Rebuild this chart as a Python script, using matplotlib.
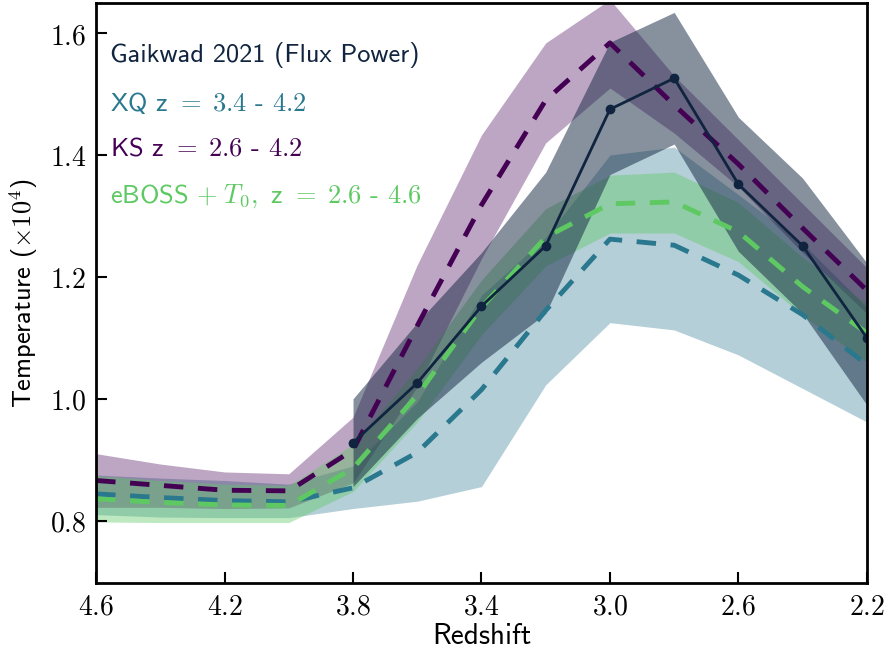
import numpy as np
import matplotlib
matplotlib.use("Agg")
import matplotlib.pyplot as plt

plt.rcParams["mathtext.fontset"] = "cm"
plt.rcParams["axes.formatter.use_mathtext"] = True

# redshift grid shared by the thermal histories
z = [4.6, 4.4, 4.2, 4.0, 3.8, 3.6, 3.4, 3.2, 3.0, 2.8, 2.6, 2.4, 2.2]

# XQ z = 3.4 - 4.2
xq_mean = [0.844, 0.838, 0.833, 0.831, 0.854, 0.912, 1.015, 1.145, 1.262, 1.252, 1.203, 1.138, 1.056]
xq_hi = [0.875, 0.870, 0.866, 0.860, 0.890, 0.995, 1.170, 1.265, 1.400, 1.413, 1.335, 1.255, 1.150]
xq_lo = [0.810, 0.806, 0.805, 0.805, 0.820, 0.832, 0.856, 1.023, 1.125, 1.113, 1.072, 1.017, 0.962]

# KS z = 2.6 - 4.2
ks_mean = [0.866, 0.858, 0.850, 0.849, 0.916, 1.120, 1.318, 1.490, 1.584, 1.482, 1.385, 1.280, 1.178]
ks_hi = [0.910, 0.893, 0.880, 0.877, 0.970, 1.220, 1.433, 1.584, 1.655, 1.530, 1.425, 1.320, 1.215]
ks_lo = [0.822, 0.822, 0.820, 0.821, 0.862, 1.020, 1.230, 1.420, 1.510, 1.436, 1.348, 1.240, 1.140]

# eBOSS + T0, z = 2.6 - 4.6
eb_mean = [0.836, 0.830, 0.826, 0.825, 0.886, 1.006, 1.150, 1.265, 1.320, 1.323, 1.274, 1.184, 1.108]
eb_hi = [0.874, 0.866, 0.860, 0.858, 0.925, 1.050, 1.195, 1.312, 1.367, 1.372, 1.322, 1.232, 1.156]
eb_lo = [0.798, 0.797, 0.797, 0.797, 0.848, 0.962, 1.105, 1.218, 1.272, 1.272, 1.225, 1.137, 1.060]

# Gaikwad 2021 flux power measurements
g_z = [3.8, 3.6, 3.4, 3.2, 3.0, 2.8, 2.6, 2.4, 2.2]
g_mean = [0.928, 1.026, 1.152, 1.251, 1.475, 1.526, 1.352, 1.251, 1.100]
g_hi = [1.000, 1.125, 1.240, 1.372, 1.585, 1.634, 1.462, 1.362, 1.223]
g_lo = [0.856, 0.968, 1.060, 1.140, 1.368, 1.418, 1.242, 1.140, 0.990]

c_xq = "#2a788e"
c_ks = "#440154"
c_eb = "#5ec962"
c_g = "#10243f"

fig, ax = plt.subplots(figsize=(8.9, 6.52), dpi=100)
fig.subplots_adjust(left=0.108, right=0.974, top=0.995, bottom=0.106)

ax.fill_between(z, xq_lo, xq_hi, color=c_xq, alpha=0.35, lw=0)
ax.fill_between(z, ks_lo, ks_hi, color=c_ks, alpha=0.35, lw=0)
ax.fill_between(z, eb_lo, eb_hi, color=c_eb, alpha=0.4, lw=0)
ax.fill_between(g_z, g_lo, g_hi, color=c_g, alpha=0.5, lw=0)

dash = (4, 3)
ax.plot(z, xq_mean, color=c_xq, lw=3.5, dashes=dash, label=r"XQ z $=\;3.4$ - $4.2$")
ax.plot(z, ks_mean, color=c_ks, lw=3.5, dashes=dash, label=r"KS z $=\;2.6$ - $4.2$")
ax.plot(z, eb_mean, color=c_eb, lw=3.5, dashes=dash, label=r"eBOSS $+\;T_0,$ z $=\;2.6$ - $4.6$")
ax.plot(g_z, g_mean, color=c_g, lw=2, marker="o", ms=6, label="Gaikwad 2021 (Flux Power)")

ax.set_xlim(4.6, 2.2)
ax.set_ylim(0.698, 1.649)
ax.set_xticks([4.6, 4.2, 3.8, 3.4, 3.0, 2.6, 2.2])
ax.set_yticks([0.8, 1.0, 1.2, 1.4, 1.6])
ax.xaxis.set_major_formatter(matplotlib.ticker.FormatStrFormatter("$%.1f$"))
ax.yaxis.set_major_formatter(matplotlib.ticker.FormatStrFormatter("$%.1f$"))
ax.tick_params(direction="in", length=8, width=1.5, labelsize=20, pad=7)
for s in ax.spines.values():
    s.set_linewidth(2)

ax.set_xlabel("Redshift", fontsize=21, family="cmss10", labelpad=2)
ax.set_ylabel(r"Temperature ($\times 10^4$)", fontsize=19, family="cmss10", labelpad=7)

handles, labels = ax.get_legend_handles_labels()
order = [3, 0, 1, 2]
leg = ax.legend([handles[i] for i in order], [labels[i] for i in order],
                loc="upper left", bbox_to_anchor=(-0.013, 0.974),
                frameon=False, handlelength=0, handletextpad=0,
                labelspacing=0.82, borderaxespad=0.5,
                prop={"family": "cmss10", "size": 19},
                labelcolor=[c_g, c_xq, c_ks, c_eb])
for h in leg.legend_handles:
    h.set_visible(False)

fig.savefig("out.png", dpi=100)
